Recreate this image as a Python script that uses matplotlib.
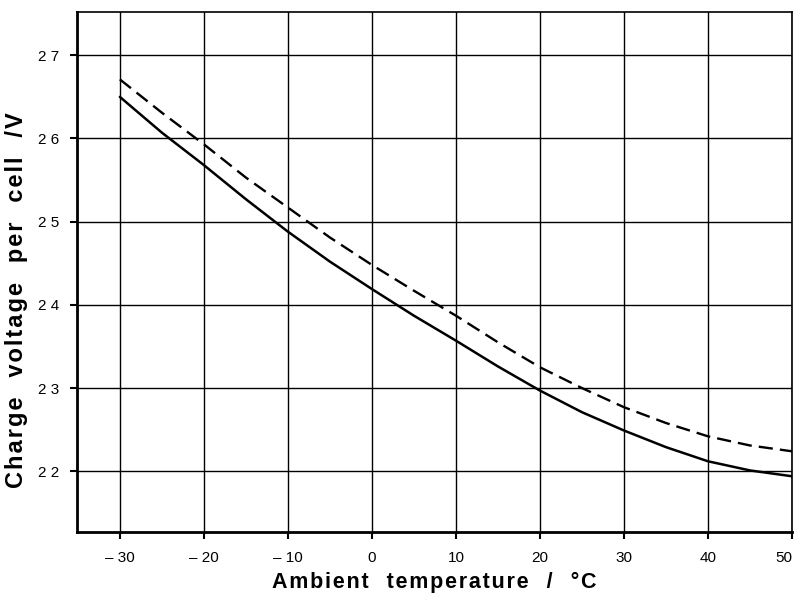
import numpy as np
import matplotlib.pyplot as plt

# ambient temperature (deg C)
temps = [-30, -25, -20, -15, -10, -5, 0, 5, 10, 15, 20, 25, 30, 35, 40, 45, 50]
# charge voltage per cell (V), solid curve
volts_solid = [2.650, 2.607, 2.568, 2.527, 2.488, 2.452, 2.419, 2.387, 2.357, 2.326,
               2.297, 2.271, 2.249, 2.229, 2.212, 2.201, 2.194]
# dashed curve
volts_dash = [2.671, 2.631, 2.593, 2.553, 2.517, 2.481, 2.448, 2.417, 2.387, 2.355,
              2.325, 2.300, 2.277, 2.258, 2.242, 2.231, 2.224]

xticks = [-30, -20, -10, 0, 10, 20, 30, 40, 50]
xticklabels = ['\u2013 30', '\u2013 20', '\u2013 10', '0', '10', '20', '30', '40', '50']
yticks = [2.2, 2.3, 2.4, 2.5, 2.6, 2.7]
yticklabels = ['2 2', '2 3', '2 4', '2 5', '2 6', '2 7']


def spaced(text, sep, gap='  '):
    # widen the lettering like the typeset original
    return gap.join(sep.join(w) for w in text.split(' '))


plt.rcParams['font.family'] = ['Liberation Sans', 'DejaVu Sans']

fig = plt.figure(figsize=(7.96, 5.95), dpi=100)
W, H = 796, 595
left, right, top, bottom = 77, 792, 12, 532
ax = fig.add_axes([left / W, 1 - bottom / H, (right - left) / W, (bottom - top) / H])

ax.plot(temps, volts_solid, color='black', lw=1.8, solid_capstyle='round')
ax.plot(temps, volts_dash, color='black', lw=1.7, dashes=(6, 3))

ax.set_xlim(-35.1, 50)
ax.set_ylim(2.127, 2.752)
ax.set_xticks(xticks)
ax.set_xticklabels(xticklabels)
ax.set_yticks(yticks)
ax.set_yticklabels(yticklabels)
ax.grid(True, color='black', lw=1.0)
ax.set_axisbelow(True)

for s in ['left', 'bottom']:
    ax.spines[s].set_linewidth(2.0)
for s in ['top', 'right']:
    ax.spines[s].set_linewidth(1.2)

ax.tick_params(axis='both', direction='out', length=5, width=1.5, labelsize=11,
               colors='black')
ax.tick_params(axis='x', pad=9)
ax.tick_params(axis='y', pad=8)
ax.get_xticklabels()[-1].set_horizontalalignment('right')

ax.set_xlabel(spaced('Ambient temperature / \u00b0C', '\u200a', '   '), fontsize=15.5,
              fontweight='bold', labelpad=5)
ax.set_ylabel(spaced('Charge voltage per cell /V', '\u200a', '   '), fontsize=17,
              fontweight='bold', labelpad=7)
ax.yaxis.label.set_y(0.445)

fig.savefig('out.png', dpi=100)
